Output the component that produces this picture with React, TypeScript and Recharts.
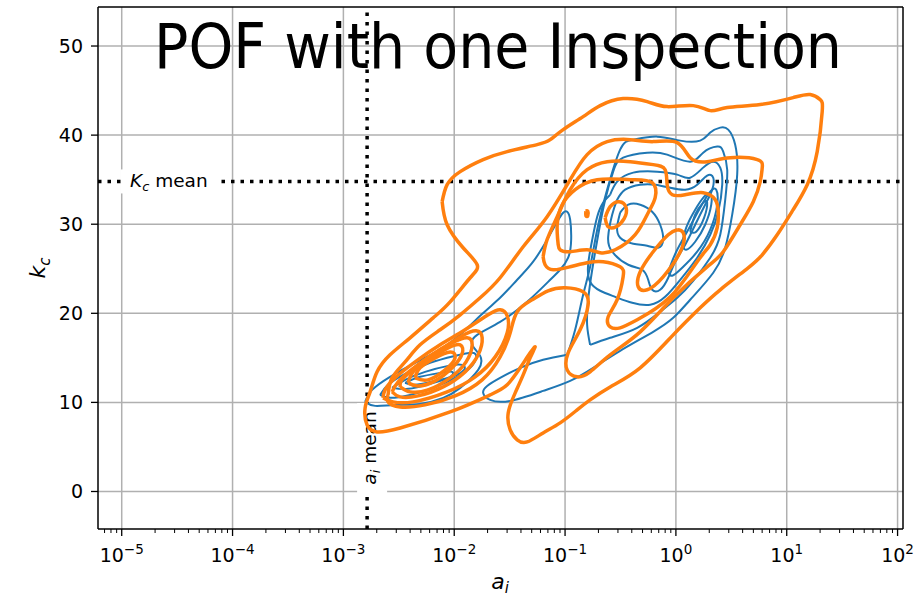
import React from 'react';
import { ComposedChart, Line, XAxis, YAxis, CartesianGrid, ReferenceLine } from 'recharts';

type Pt = [number, number];

const W = 920;
const H = 597;
const FONT = 'DejaVu Sans';

// axis setup (x values are log10(a_i))
const xDomainExp: Pt = [-5.214, 2.049];
const yDomain: Pt = [-4.21, 54.38];
const xMajorExp = [-5, -4, -3, -2, -1, 0, 1, 2];
const xMinorMult = [2, 3, 4, 5, 6, 7, 8, 9];
const yTicks = [0, 10, 20, 30, 40, 50];
const aiMeanExp = -2.786;
const kcMean = 34.8;
const titleText = 'POF with one Inspection';

// ---------- blue contours: [log10(a_i), k_c] ----------
const blueClusterOuter: Pt[] = [
  [-2.804, 10.06], [-2.741, 11.4], [-2.579, 12.87], [-2.335, 14.55], [-2.037, 16.69], [-1.766, 19.72],
  [-1.586, 21.74], [-1.432, 23.76], [-1.288, 25.79], [-1.162, 28.26], [-1.071, 30.28], [-1.017, 31.29],
  [-0.981, 31.4], [-0.954, 30.51], [-0.945, 28.26], [-0.972, 26.24], [-1.044, 24.89], [-1.134, 23.76],
  [-1.342, 21.29], [-1.586, 19.04], [-1.793, 17.58], [-1.838, 16.46], [-1.766, 15.22], [-1.784, 13.65],
  [-1.946, 11.63], [-2.1, 10.51], [-2.308, 9.83], [-2.534, 9.72], [-2.714, 9.61],
];
const blueCluster2: Pt[] = [
  [-2.669, 10.84], [-2.597, 11.97], [-2.443, 13.2], [-2.218, 14.44], [-1.992, 15.22], [-1.838, 15.56],
  [-1.802, 15.0], [-1.856, 13.88], [-1.992, 12.75], [-2.19, 11.63], [-2.398, 10.84], [-2.579, 10.51],
];
const blueCluster3: Pt[] = [
  [-2.561, 11.63], [-2.443, 12.53], [-2.263, 13.43], [-2.055, 14.1], [-1.929, 14.21], [-1.911, 13.65],
  [-2.019, 12.87], [-2.218, 12.08], [-2.416, 11.52],
];
const blueCluster4: Pt[] = [
  [-2.443, 12.19], [-2.308, 12.87], [-2.127, 13.31], [-2.019, 13.43], [-2.037, 12.87], [-2.172, 12.42],
  [-2.353, 11.97],
];
const blueUpperOuter: Pt[] = [
  [-0.981, 15.34], [-1.198, 14.78], [-1.405, 13.88], [-1.586, 12.75], [-1.703, 11.85], [-1.739, 11.07],
  [-1.676, 10.28], [-1.495, 10.17], [-1.198, 11.29], [-0.954, 12.42], [-0.746, 13.88], [-0.503, 15.79],
  [-0.205, 17.92], [-0.024, 19.49], [0.129, 21.52], [0.337, 24.55], [0.445, 27.36], [0.508, 31.07],
  [0.553, 35.56], [0.535, 38.93], [0.472, 40.62], [0.4, 40.84], [0.31, 40.28], [0.219, 39.38],
  [0.039, 39.38], [-0.169, 39.83], [-0.385, 39.49], [-0.503, 38.37], [-0.62, 33.88], [-0.71, 29.38],
  [-0.774, 25.22], [-0.837, 22.08], [-0.909, 18.15],
];
const blueUpper2: Pt[] = [
  [-0.774, 16.46], [-0.593, 17.25], [-0.349, 18.37], [-0.142, 20.17], [0.012, 21.74], [0.156, 23.65],
  [0.31, 26.24], [0.4, 28.82], [0.445, 32.75], [0.463, 36.12], [0.427, 38.15], [0.373, 38.71],
  [0.246, 38.03], [0.129, 37.02], [-0.079, 37.81], [-0.259, 38.03], [-0.476, 37.47], [-0.566, 35.9],
  [-0.638, 32.75], [-0.701, 28.82], [-0.755, 24.89], [-0.792, 21.52], [-0.801, 18.71],
];
const blueUpper3: Pt[] = [
  [-0.593, 33.31], [-0.53, 34.78], [-0.385, 35.79], [-0.169, 35.9], [0.012, 35.56], [0.129, 35.22],
  [0.246, 36.35], [0.337, 37.02], [0.4, 36.35], [0.418, 34.44], [0.382, 31.4], [0.31, 28.82],
  [0.192, 26.24], [0.039, 23.76], [-0.097, 21.85], [-0.232, 20.96], [-0.394, 21.18], [-0.548, 21.85],
  [-0.683, 22.53], [-0.774, 23.54], [-0.792, 25.45], [-0.755, 28.26], [-0.71, 30.84], [-0.656, 32.42],
];
const blueUpper4: Pt[] = [
  [-0.53, 32.75], [-0.575, 31.07], [-0.611, 28.6], [-0.575, 26.91], [-0.43, 25.45], [-0.304, 24.89],
  [-0.25, 23.76], [-0.214, 22.64], [-0.142, 22.64], [-0.069, 23.99], [-0.006, 25.79], [0.084, 27.7],
  [0.174, 29.94], [0.264, 32.19], [0.328, 33.88], [0.337, 35.22], [0.282, 35.45], [0.192, 34.44],
  [0.084, 33.88], [-0.051, 34.1], [-0.187, 34.44], [-0.322, 34.44], [-0.458, 33.88],
];
const blueModeB: Pt[] = [
  [-0.503, 31.29], [-0.53, 29.72], [-0.503, 28.48], [-0.385, 27.81], [-0.259, 27.58], [-0.16, 27.36],
  [-0.115, 28.26], [-0.142, 29.94], [-0.214, 31.4], [-0.322, 32.19], [-0.43, 32.19],
];
const blueModeC1: Pt[] = [
  [-0.069, 24.66], [0.003, 26.91], [0.111, 29.38], [0.219, 31.85], [0.31, 33.65], [0.364, 33.88],
  [0.373, 32.19], [0.31, 29.38], [0.192, 26.91], [0.057, 25.11], [-0.033, 24.21],
];
const blueModeC2: Pt[] = [
  [0.057, 27.7], [0.093, 29.61], [0.174, 31.63], [0.255, 33.09], [0.31, 33.43], [0.319, 32.19],
  [0.264, 29.94], [0.174, 28.03], [0.093, 27.13],
];
const blueModeC3: Pt[] = [
  [0.129, 29.16], [0.174, 31.07], [0.246, 32.42], [0.282, 32.42], [0.255, 30.73], [0.183, 29.16],
];

// ---------- orange contours: [log10(a_i), k_c] ----------
const orangeOuter: Pt[] = [
  [-2.109, 32.53], [-2.064, 34.44], [-1.946, 35.9], [-1.739, 37.25], [-1.522, 38.15], [-1.252, 38.93],
  [-1.134, 39.49], [-1.017, 40.62], [-0.837, 42.08], [-0.683, 43.31], [-0.476, 44.1], [-0.259, 43.76],
  [-0.079, 43.2], [0.156, 43.31], [0.31, 42.75], [0.463, 43.09], [0.761, 43.43], [1.058, 44.21],
  [1.212, 44.55], [1.302, 43.99], [1.32, 42.64], [1.275, 38.15], [1.185, 34.44], [1.058, 31.63],
  [0.914, 28.82], [0.779, 26.57], [0.652, 25.11], [0.4, 22.64], [0.219, 20.62], [-0.024, 17.58],
  [-0.322, 13.88], [-0.593, 11.74], [-0.774, 10.28], [-0.891, 9.16], [-1.044, 7.7], [-1.198, 6.57],
  [-1.342, 5.56], [-1.432, 5.79], [-1.495, 6.91], [-1.513, 8.82], [-1.45, 11.07], [-1.378, 13.09],
  [-1.315, 15.0], [-1.27, 16.24], [-1.315, 15.56], [-1.405, 13.88], [-1.522, 11.97], [-1.676, 10.84],
  [-2.037, 8.93], [-2.488, 7.13], [-2.696, 6.69], [-2.786, 7.47], [-2.804, 9.38], [-2.759, 11.18],
  [-2.696, 13.43], [-2.579, 15.34], [-2.398, 17.25], [-2.19, 19.49], [-2.037, 21.29], [-1.856, 23.99],
  [-1.793, 25.45], [-1.92, 27.36], [-2.064, 29.94],
];
const orangeLevel2: Pt[] = [
  [-2.597, 10.84], [-2.561, 12.75], [-2.443, 14.55], [-2.308, 16.46], [-2.127, 18.15], [-1.946, 19.83],
  [-1.766, 21.74], [-1.586, 23.99], [-1.378, 27.47], [-1.162, 30.84], [-0.954, 35.0], [-0.801, 37.81],
  [-0.62, 39.27], [-0.412, 39.49], [-0.205, 39.27], [0.012, 39.16], [0.129, 37.47], [0.282, 37.02],
  [0.49, 37.47], [0.734, 37.25], [0.779, 36.35], [0.761, 34.78], [0.698, 32.53], [0.58, 29.94],
  [0.427, 26.91], [0.282, 25.22], [-0.024, 21.74], [-0.322, 17.92], [-0.593, 15.34], [-0.774, 13.43],
  [-0.891, 12.87], [-0.981, 13.65], [-0.972, 15.56], [-0.864, 18.15], [-0.792, 20.96], [-0.837, 22.42],
  [-0.999, 22.87], [-1.153, 22.53], [-1.297, 21.52], [-1.432, 20.17], [-1.495, 17.81], [-1.586, 15.11],
  [-1.748, 12.53], [-1.992, 10.73], [-2.263, 9.72], [-2.488, 9.49], [-2.597, 10.06],
];
const orangeLevel3: Pt[] = [
  [-1.198, 26.35], [-1.162, 28.26], [-1.071, 30.84], [-0.954, 33.88], [-0.801, 36.12], [-0.62, 37.02],
  [-0.412, 37.02], [-0.205, 36.69], [-0.097, 36.12], [-0.079, 34.44], [-0.033, 33.31], [0.084, 33.31],
  [0.246, 33.54], [0.355, 32.75], [0.382, 31.4], [0.373, 29.61], [0.31, 27.7], [0.192, 25.79],
  [-0.051, 21.85], [-0.349, 19.27], [-0.503, 18.37], [-0.593, 18.48], [-0.611, 19.61], [-0.53, 21.52],
  [-0.476, 24.1], [-0.503, 25.22], [-0.656, 25.79], [-0.801, 25.67], [-0.954, 25.22], [-1.107, 24.89],
  [-1.18, 25.45],
];
const orangeLevel4: Pt[] = [
  [-1.062, 27.7], [-1.071, 29.94], [-1.026, 32.19], [-0.909, 33.88], [-0.71, 35.0], [-0.412, 35.0],
  [-0.214, 34.66], [-0.187, 32.98], [-0.25, 31.29], [-0.367, 28.82], [-0.548, 27.13], [-0.683, 26.8],
  [-0.801, 27.13], [-0.954, 26.91], [-1.044, 27.13],
];
const orangeInnerB: Pt[] = [
  [-0.638, 30.73], [-0.593, 31.97], [-0.512, 32.53], [-0.449, 31.85], [-0.467, 30.62], [-0.539, 29.72],
  [-0.611, 29.72],
];
const orangeDot: Pt[] = [[-0.812, 31.45], [-0.795, 31.45], [-0.795, 30.95], [-0.812, 30.95]];
const orangeModeC: Pt[] = [
  [0.012, 29.38], [0.066, 29.04], [0.048, 27.13], [-0.115, 24.1], [-0.259, 22.64], [-0.34, 22.98],
  [-0.322, 24.66], [-0.205, 26.91], [-0.069, 28.82],
];
const orangeCluster1: Pt[] = [
  [-2.642, 10.51], [-2.552, 10.06], [-2.371, 10.06], [-2.064, 11.18], [-1.811, 12.87], [-1.63, 15.11],
  [-1.522, 17.81], [-1.522, 19.72], [-1.586, 20.39], [-1.694, 19.83], [-1.902, 18.15], [-2.127, 16.46],
  [-2.353, 14.55], [-2.534, 12.75], [-2.624, 11.4],
];
const orangeCluster2: Pt[] = [
  [-2.561, 11.18], [-2.488, 10.62], [-2.326, 10.73], [-2.1, 11.74], [-1.902, 13.43], [-1.784, 15.34],
  [-1.748, 17.25], [-1.802, 18.03], [-1.929, 17.47], [-2.127, 15.9], [-2.353, 13.99], [-2.506, 12.3],
];
const orangeCluster3: Pt[] = [
  [-2.488, 11.74], [-2.398, 11.18], [-2.236, 11.4], [-2.037, 12.75], [-1.893, 14.55], [-1.838, 16.46],
  [-1.883, 17.25], [-2.019, 16.69], [-2.218, 15.22], [-2.398, 13.43], [-2.479, 12.42],
];
const orangeCluster4: Pt[] = [
  [-2.416, 12.19], [-2.326, 11.85], [-2.172, 12.42], [-2.019, 13.88], [-1.929, 15.45], [-1.946, 16.46],
  [-2.055, 16.12], [-2.236, 14.78], [-2.371, 13.43],
];
const orangeCluster5: Pt[] = [
  [-2.353, 12.75], [-2.236, 12.53], [-2.082, 13.65], [-1.992, 15.0], [-2.037, 15.67], [-2.172, 15.0],
  [-2.308, 13.88],
];

const BLUE = '#1f77b4';
const ORANGE = '#ff7f0e';

const blueSet: Pt[][] = [
  blueClusterOuter, blueCluster2, blueCluster3, blueCluster4,
  blueUpperOuter, blueUpper2, blueUpper3, blueUpper4, blueModeB, blueModeC1, blueModeC2, blueModeC3,
];
const orangeSet: Pt[][] = [
  orangeOuter, orangeLevel2, orangeLevel3, orangeLevel4, orangeInnerB, orangeDot, orangeModeC,
  orangeCluster1, orangeCluster2, orangeCluster3, orangeCluster4, orangeCluster5,
];

const toRows = (pts: Pt[]) => [...pts, pts[0]].map(([l, k]) => ({ x: Math.pow(10, l), y: k }));

const xDom: [number, number] = [Math.pow(10, xDomainExp[0]), Math.pow(10, xDomainExp[1])];
const xMajors = xMajorExp.map((e) => Math.pow(10, e));
const xMinors: number[] = [];
for (let e = xMajorExp[0] - 1; e <= xMajorExp[xMajorExp.length - 1]; e++) {
  xMinorMult.forEach((m) => {
    const v = m * Math.pow(10, e);
    if (v > xDom[0] && v < xDom[1]) xMinors.push(v);
  });
}
const xAllTicks = [...xMajors, ...xMinors].sort((a, b) => a - b);

const fmtExp = (e: number) => (e < 0 ? '\u2212' + Math.abs(e) : String(e));

const XTick = (props: any) => {
  const { x, y, payload } = props;
  const v = payload.value as number;
  const e = Math.log10(v);
  const isMajor = Math.abs(e - Math.round(e)) < 1e-6;
  const y0 = y - 7;
  return (
    <g>
      <line x1={x} x2={x} y1={y0} y2={y0 + (isMajor ? 7 : 4)} stroke="#000" strokeWidth={isMajor ? 1.3 : 1} />
      {isMajor && (
        <text x={x} y={y0 + 33} textAnchor="middle" fontFamily={FONT} fontSize={19} fill="#000">
          <tspan>10</tspan>
          <tspan dy={-8} fontSize={13.5}>{fmtExp(Math.round(e))}</tspan>
        </text>
      )}
    </g>
  );
};

const KcLabel = (props: any) => {
  const vb = props.viewBox || {};
  const x0 = vb.x ?? 98;
  const y0 = vb.y ?? 181;
  return (
    <g>
      <rect x={x0 + 23} y={y0 - 12} width={97} height={24} fill="#fff" />
      <text x={x0 + 32} y={y0 + 6} fontFamily={FONT} fontSize={18.5} fill="#000">
        <tspan fontStyle="italic">K</tspan>
        <tspan fontStyle="italic" fontSize={13} dy={4}>c</tspan>
        <tspan dy={-4}>{' mean'}</tspan>
      </text>
    </g>
  );
};

const AiLabel = (props: any) => {
  const vb = props.viewBox || {};
  const x0 = vb.x ?? 367;
  const bottom = (vb.y ?? 7) + (vb.height ?? 522);
  const cx = x0 + 9;
  const cy = bottom - 81;
  return (
    <g>
      <rect x={x0 - 10} y={bottom - 126} width={30} height={90} fill="#fff" />
      <text x={cx} y={cy} transform={`rotate(-90, ${cx}, ${cy})`} textAnchor="middle" fontFamily={FONT} fontSize={18.5} fill="#000">
        <tspan fontStyle="italic">a</tspan>
        <tspan fontStyle="italic" fontSize={13} dy={4}>i</tspan>
        <tspan dy={-4}>{' mean'}</tspan>
      </text>
    </g>
  );
};

export default function App() {
  const spine = { stroke: '#000', strokeWidth: 1.5 };
  return (
    <div style={{ position: 'absolute', left: 0, top: 0, width: W, height: H, background: '#fff' }}>
      <ComposedChart width={W} height={H} margin={{ top: 7, right: 17, bottom: 0, left: 0 }}>
        <CartesianGrid
          xAxisId="b"
          yAxisId="l"
          stroke="#b0b0b0"
          strokeWidth={1.5}
          verticalValues={xMajors}
          horizontalValues={yTicks}
        />
        <XAxis
          xAxisId="b"
          dataKey="x"
          type="number"
          scale="log"
          domain={xDom}
          allowDataOverflow
          ticks={xAllTicks}
          interval={0}
          tick={<XTick />}
          tickLine={false}
          tickSize={7}
          tickMargin={0}
          height={68}
          axisLine={spine}
        />
        <YAxis
          yAxisId="l"
          type="number"
          domain={yDomain}
          allowDataOverflow
          ticks={yTicks}
          interval={0}
          width={98}
          tickSize={7}
          tickMargin={8}
          tick={{ fill: '#000', fontSize: 19, fontFamily: FONT }}
          tickLine={{ stroke: '#000', strokeWidth: 1.3 }}
          axisLine={spine}
        />
        <ReferenceLine xAxisId="b" yAxisId="l" x={xDom[1]} stroke="#000" strokeWidth={1.5} ifOverflow="visible" />
        <ReferenceLine xAxisId="b" yAxisId="l" y={yDomain[1]} stroke="#000" strokeWidth={1.5} ifOverflow="visible" />
        <ReferenceLine
          xAxisId="b"
          yAxisId="l"
          x={Math.pow(10, aiMeanExp)}
          stroke="#000"
          strokeWidth={3.5}
          strokeDasharray="3.5 6"
          label={<AiLabel />}
        />
        <ReferenceLine
          xAxisId="b"
          yAxisId="l"
          y={kcMean}
          stroke="#000"
          strokeWidth={3.5}
          strokeDasharray="3.5 6"
          label={<KcLabel />}
        />
        {blueSet.map((pts, i) => (
          <Line
            key={'b' + i}
            xAxisId="b"
            yAxisId="l"
            data={toRows(pts)}
            dataKey="y"
            type="natural"
            stroke={BLUE}
            strokeWidth={2}
            dot={false}
            activeDot={false}
            isAnimationActive={false}
          />
        ))}
        {orangeSet.map((pts, i) => (
          <Line
            key={'o' + i}
            xAxisId="b"
            yAxisId="l"
            data={toRows(pts)}
            dataKey="y"
            type="natural"
            stroke={ORANGE}
            strokeWidth={3.5}
            dot={false}
            activeDot={false}
            isAnimationActive={false}
          />
        ))}
      </ComposedChart>
      <svg
        width={W}
        height={H}
        style={{ position: 'absolute', left: 0, top: 0, pointerEvents: 'none' }}
      >
        <text x={154} y={68} fontFamily={FONT} fontSize={62} fill="#000" textLength={688} lengthAdjust="spacingAndGlyphs">
          {titleText}
        </text>
        <text x={500} y={589} textAnchor="middle" fontFamily={FONT} fontSize={22} fontStyle="italic" fill="#000">
          a<tspan dy={4} fontSize={15}>i</tspan>
        </text>
        <text
          x={45}
          y={268}
          transform="rotate(-90, 45, 268)"
          textAnchor="middle"
          fontFamily={FONT}
          fontSize={22}
          fontStyle="italic"
          fill="#000"
        >
          k<tspan dy={5} fontSize={15}>c</tspan>
        </text>
      </svg>
    </div>
  );
}
